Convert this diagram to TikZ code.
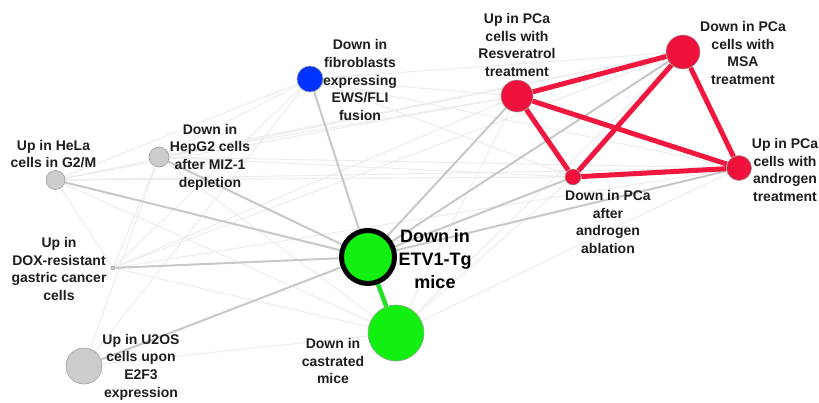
\documentclass[tikz,border=0pt]{standalone}
\usepackage{fontspec}
\setmainfont{Liberation Sans}
\pgfdeclarelayer{bg}
\pgfsetlayers{bg,main}
\definecolor{nred}{HTML}{F0103C}
\definecolor{ered}{HTML}{F2173F}
\definecolor{ngreen}{HTML}{11F011}
\definecolor{egreen}{HTML}{22E022}
\definecolor{nblue}{HTML}{0033FF}
\definecolor{ngray}{HTML}{CCCCCC}
\definecolor{egray}{HTML}{C8C8C8}
\definecolor{efaint}{HTML}{EBEBEB}
\definecolor{txt}{HTML}{1E1E1E}
\begin{document}
\begin{tikzpicture}[x=1pt,y=-1pt,
  vert/.style={circle, inner sep=0pt, draw=black!38, line width=0.6pt},
  lbl/.style={align=center, font=\fontsize{14}{17.7}\selectfont\bfseries, text=txt, inner sep=0pt},
  biglbl/.style={align=center, font=\fontsize{18}{23}\selectfont\bfseries, text=black, inner sep=0pt},
  faint/.style={draw=efaint, line width=0.9pt},
  medge/.style={draw=egray, line width=2pt},
  redge/.style={draw=ered, line width=5pt},
  gedge/.style={draw=egreen, line width=4.5pt}]
\useasboundingbox (0,0) rectangle (819,402);
% nodes
\node[vert, fill=ngreen, draw=black, line width=5pt, minimum size=53pt] (etv) at (368,257) {};
\node[vert, fill=ngreen, minimum size=56pt] (cas) at (396,333) {};
\node[vert, fill=nblue, minimum size=26pt] (fib) at (310,79) {};
\node[vert, fill=ngray, minimum size=20pt] (hep) at (159,157) {};
\node[vert, fill=ngray, minimum size=19pt] (hela) at (55.5,180) {};
\node[vert, fill=ngray, minimum size=4pt] (dox) at (113,268) {};
\node[vert, fill=ngray, minimum size=36pt] (u2os) at (84,366) {};
\node[vert, fill=nred, minimum size=32pt] (resv) at (517,96) {};
\node[vert, fill=nred, minimum size=34pt] (msa) at (683,52) {};
\node[vert, fill=nred, minimum size=25pt] (andt) at (739,168) {};
\node[vert, fill=nred, minimum size=16pt] (abl) at (573,177) {};
% edges
\begin{pgfonlayer}{bg}
\fill[white] (0,0) rectangle (819,402);
\foreach \a/\b in {resv/hela, resv/hep, resv/fib, resv/dox, resv/cas,
  msa/fib, msa/hep, msa/hela, msa/dox, msa/cas,
  andt/hep, andt/hela, andt/fib, andt/cas, andt/dox,
  abl/hep, abl/hela, abl/cas, abl/fib,
  fib/dox, fib/u2os, fib/hela, fib/hep, hep/u2os, hela/dox,
  dox/cas, u2os/cas, hep/cas, hep/dox, hela/cas}
  \draw[faint] (\a) -- (\b);
\foreach \b in {fib, hep, hela, dox, u2os, resv, msa, andt, abl}
  \draw[medge] (etv) -- (\b);
\draw[gedge] (etv) -- (cas);
\foreach \a/\b in {resv/msa, resv/andt, resv/abl, msa/abl, msa/andt, abl/andt}
  \draw[redge] (\a) -- (\b);
\end{pgfonlayer}
% labels
\node[biglbl] (letv) at (435,259) {Down in\\ETV1-Tg\\mice};
\node[lbl] (lcas) at (333,361) {Down in\\castrated\\mice};
\node[lbl] (lfib) at (360,80) {Down in\\fibroblasts\\expressing\\EWS/FLI\\fusion};
\node[lbl] (lhep) at (210,157) {Down in\\HepG2 cells\\after MIZ-1\\depletion};
\node[lbl] (lhela) at (53.5,154) {Up in HeLa\\cells in G2/M};
\node[lbl] (ldox) at (59,269) {Up in\\DOX-resistant\\gastric cancer\\cells};
\node[lbl] (lu2os) at (141,367) {Up in U2OS\\cells upon\\E2F3\\expression};
\node[lbl] (lresv) at (517,45) {Up in PCa\\cells with\\Resveratrol\\treatment};
\node[lbl] (lmsa) at (743,53) {Down in PCa\\cells with\\MSA\\treatment};
\node[lbl] (landt) at (785,170) {Up in PCa\\cells with\\androgen\\treatment};
\node[lbl] (labl) at (608,222) {Down in PCa\\after\\androgen\\ablation};
\end{tikzpicture}
\end{document}
